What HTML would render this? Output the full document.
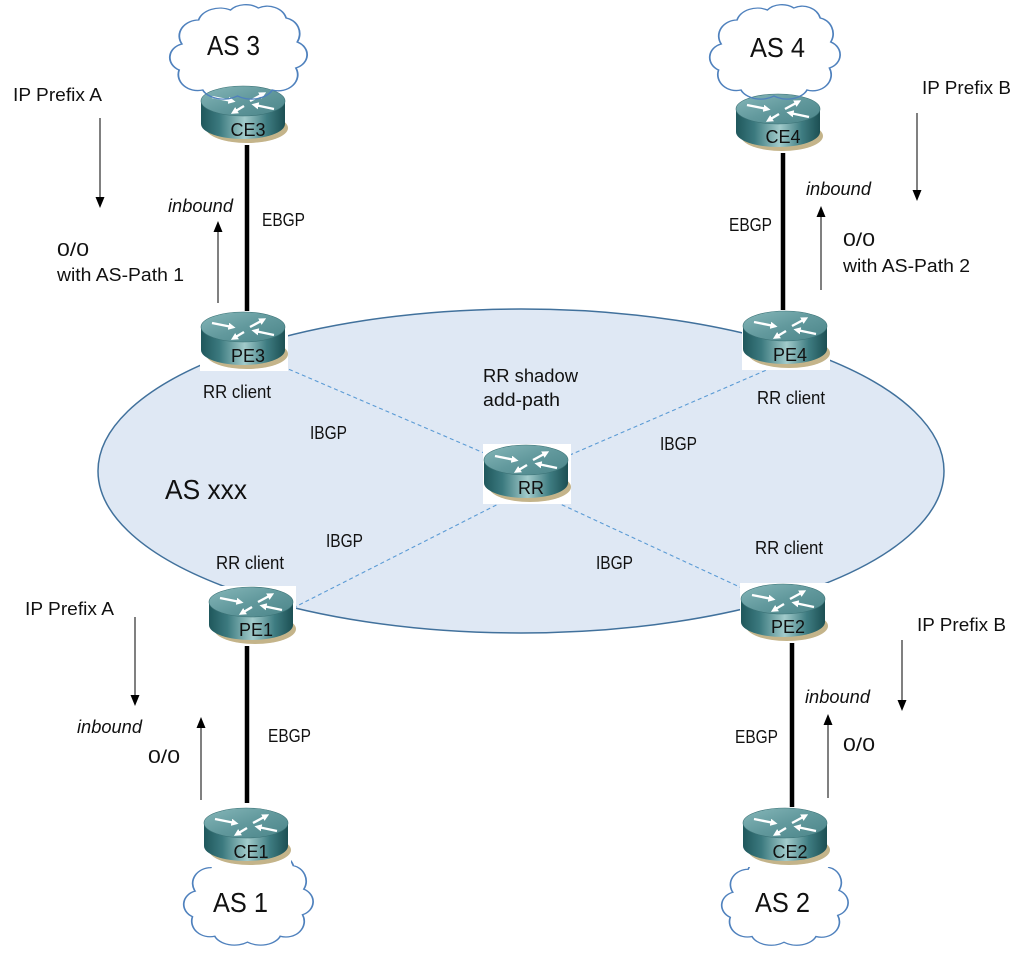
<!DOCTYPE html>
<html>
<head>
<meta charset="utf-8">
<style>
html,body{margin:0;padding:0;background:#fff;}
svg{display:block;}
text{font-family:"Liberation Sans",Arial,sans-serif;fill:#111;}
</style>
</head>
<body>
<svg width="1024" height="954" viewBox="0 0 1024 954" xmlns="http://www.w3.org/2000/svg">
<defs>
  <linearGradient id="gs" x1="0" y1="0" x2="1" y2="0">
    <stop offset="0" stop-color="#1f575c"/>
    <stop offset="0.22" stop-color="#3c7a7f"/>
    <stop offset="0.52" stop-color="#a2cbcb"/>
    <stop offset="0.78" stop-color="#3f7d82"/>
    <stop offset="1" stop-color="#1c4f53"/>
  </linearGradient>
  <linearGradient id="gt" x1="0" y1="0" x2="1" y2="1">
    <stop offset="0" stop-color="#86b7b9"/>
    <stop offset="0.5" stop-color="#62999d"/>
    <stop offset="1" stop-color="#4b8589"/>
  </linearGradient>
  <marker id="wh" viewBox="0 0 10 10" refX="5" refY="5" markerWidth="3" markerHeight="3" orient="auto">
    <path d="M0,0 L10,5 L0,10 Z" fill="#fff"/>
  </marker>
  <symbol id="rt" viewBox="0 0 88 60">
    <rect width="88" height="60" fill="#fff"/>
    <ellipse cx="47" cy="43" rx="41" ry="15" fill="#c4b48a"/>
    <path d="M1,16 L1,39 A42,15 0 0 0 85,39 L85,16 Z" fill="url(#gs)"/>
    <ellipse cx="43" cy="16" rx="42" ry="15" fill="url(#gt)" stroke="#3a7175" stroke-width="0.6"/>
    <g stroke="#fff" stroke-width="2.4" fill="none" marker-end="url(#wh)">
      <path d="M12,12 L32,16"/>
      <path d="M50,16 L63,9"/>
      <path d="M44,21 L34,27"/>
      <path d="M74,24 L55,20"/>
    </g>
  </symbol>
  <path id="cloud" d="M10,42 A14,16 0 0 1 22,18 A16,16 0 0 1 45,8 A14,14 0 0 1 65,6 A14,16 0 0 1 85,16 A12,16 0 0 1 93,40 A12,14 0 0 1 92,66 A14,16 0 0 1 75,88 A16,14 0 0 1 50,94 A16,14 0 0 1 25,88 A14,16 0 0 1 8,68 A12,14 0 0 1 10,42 Z"/>
</defs>

<rect width="1024" height="954" fill="#fff"/>

<!-- AS xxx ellipse -->
<ellipse cx="521" cy="471" rx="423" ry="162" fill="#dfe8f4" stroke="#41719c" stroke-width="1.5"/>

<!-- IBGP dashed lines -->
<g stroke="#5b9bd5" stroke-width="1.1" stroke-dasharray="4 3" fill="none">
  <line x1="244" y1="350" x2="526" y2="471"/>
  <line x1="785" y1="362" x2="526" y2="474"/>
  <line x1="293" y1="608" x2="526" y2="490"/>
  <line x1="530" y1="490" x2="770" y2="601"/>
</g>

<!-- EBGP thick lines -->
<g stroke="#000" stroke-width="4.5">
  <line x1="247" y1="140" x2="247" y2="313"/>
  <line x1="783" y1="146" x2="783" y2="312"/>
  <line x1="247" y1="634" x2="247" y2="803"/>
  <line x1="792" y1="638" x2="792" y2="808"/>
</g>

<!-- top clouds fill -->
<g fill="#fff">
  <use href="#cloud" transform="translate(168,2) scale(1.39,1.0)"/>
  <use href="#cloud" transform="translate(708,2) scale(1.32,1.0)"/>
</g>

<!-- bottom clouds -->
<g fill="#fff" stroke="#4f81bd" stroke-width="1.3">
  <use href="#cloud" vector-effect="non-scaling-stroke" transform="translate(182,850) scale(1.31,0.98)"/>
  <use href="#cloud" vector-effect="non-scaling-stroke" transform="translate(720,852) scale(1.28,0.96)"/>
</g>

<!-- routers -->
<use href="#rt" x="200" y="85" width="88" height="60"/>
<use href="#rt" x="200" y="311" width="88" height="60"/>
<use href="#rt" x="483" y="444" width="88" height="60"/>
<use href="#rt" x="735" y="93" width="88" height="60"/>
<use href="#rt" x="742" y="310" width="88" height="60"/>
<use href="#rt" x="208" y="586" width="88" height="60"/>
<use href="#rt" x="740" y="583" width="88" height="60"/>
<use href="#rt" x="203" y="807" width="88" height="60"/>
<use href="#rt" x="742" y="807" width="88" height="60"/>

<!-- top clouds outline over routers -->
<g fill="none" stroke="#4f81bd" stroke-width="1.3">
  <use href="#cloud" vector-effect="non-scaling-stroke" transform="translate(168,2) scale(1.39,1.0)"/>
  <use href="#cloud" vector-effect="non-scaling-stroke" transform="translate(708,2) scale(1.32,1.0)"/>
</g>

<!-- router labels -->
<g font-size="18" text-anchor="middle" style="fill:#111">
  <text x="248" y="136">CE3</text>
  <text x="248" y="362">PE3</text>
  <text x="531" y="494">RR</text>
  <text x="783" y="143">CE4</text>
  <text x="790" y="361">PE4</text>
  <text x="256" y="636">PE1</text>
  <text x="788" y="633">PE2</text>
  <text x="251" y="858">CE1</text>
  <text x="790" y="858">CE2</text>
</g>

<!-- AS labels -->
<g font-size="28">
  <text x="207" y="55" textLength="53" lengthAdjust="spacingAndGlyphs">AS 3</text>
  <text x="750" y="57" textLength="55" lengthAdjust="spacingAndGlyphs">AS 4</text>
  <text x="213" y="912" textLength="55" lengthAdjust="spacingAndGlyphs">AS 1</text>
  <text x="755" y="912" textLength="55" lengthAdjust="spacingAndGlyphs">AS 2</text>
  <text x="165" y="499" textLength="82" lengthAdjust="spacingAndGlyphs">AS xxx</text>
</g>

<!-- labels -->
<g font-size="18">
  <text x="13" y="101" textLength="89" lengthAdjust="spacingAndGlyphs">IP Prefix A</text>
  <text x="57" y="256" textLength="32" lengthAdjust="spacingAndGlyphs">0/0</text>
  <text x="57" y="281" textLength="127" lengthAdjust="spacingAndGlyphs">with AS-Path 1</text>
  <text x="168" y="212" font-style="italic" textLength="65" lengthAdjust="spacingAndGlyphs">inbound</text>
  <text x="262" y="226" textLength="43" lengthAdjust="spacingAndGlyphs">EBGP</text>

  <text x="922" y="94" textLength="89" lengthAdjust="spacingAndGlyphs">IP Prefix B</text>
  <text x="806" y="195" font-style="italic" textLength="65" lengthAdjust="spacingAndGlyphs">inbound</text>
  <text x="843" y="246" textLength="32" lengthAdjust="spacingAndGlyphs">0/0</text>
  <text x="843" y="272" textLength="127" lengthAdjust="spacingAndGlyphs">with AS-Path 2</text>
  <text x="729" y="231" textLength="43" lengthAdjust="spacingAndGlyphs">EBGP</text>

  <text x="25" y="615" textLength="89" lengthAdjust="spacingAndGlyphs">IP Prefix A</text>
  <text x="77" y="733" font-style="italic" textLength="65" lengthAdjust="spacingAndGlyphs">inbound</text>
  <text x="148" y="763" textLength="32" lengthAdjust="spacingAndGlyphs">0/0</text>
  <text x="268" y="742" textLength="43" lengthAdjust="spacingAndGlyphs">EBGP</text>

  <text x="917" y="631" textLength="89" lengthAdjust="spacingAndGlyphs">IP Prefix B</text>
  <text x="805" y="703" font-style="italic" textLength="65" lengthAdjust="spacingAndGlyphs">inbound</text>
  <text x="843" y="751" textLength="32" lengthAdjust="spacingAndGlyphs">0/0</text>
  <text x="735" y="743" textLength="43" lengthAdjust="spacingAndGlyphs">EBGP</text>

  <text x="203" y="398" textLength="68" lengthAdjust="spacingAndGlyphs">RR client</text>
  <text x="757" y="404" textLength="68" lengthAdjust="spacingAndGlyphs">RR client</text>
  <text x="216" y="569" textLength="68" lengthAdjust="spacingAndGlyphs">RR client</text>
  <text x="755" y="554" textLength="68" lengthAdjust="spacingAndGlyphs">RR client</text>

  <text x="483" y="382" textLength="95" lengthAdjust="spacingAndGlyphs">RR shadow</text>
  <text x="483" y="406" textLength="77" lengthAdjust="spacingAndGlyphs">add-path</text>

  <text x="310" y="439" textLength="37" lengthAdjust="spacingAndGlyphs">IBGP</text>
  <text x="660" y="450" textLength="37" lengthAdjust="spacingAndGlyphs">IBGP</text>
  <text x="326" y="547" textLength="37" lengthAdjust="spacingAndGlyphs">IBGP</text>
  <text x="596" y="569" textLength="37" lengthAdjust="spacingAndGlyphs">IBGP</text>
</g>

<!-- thin arrows -->
<g stroke="#000" stroke-width="1">
  <line x1="100" y1="118" x2="100" y2="198"/>
  <line x1="218" y1="303" x2="218" y2="231"/>
  <line x1="917" y1="113" x2="917" y2="191"/>
  <line x1="821" y1="290" x2="821" y2="216"/>
  <line x1="135" y1="617" x2="135" y2="696"/>
  <line x1="201" y1="800" x2="201" y2="727"/>
  <line x1="902" y1="640" x2="902" y2="701"/>
  <line x1="828" y1="798" x2="828" y2="724"/>
</g>
<g fill="#000">
  <polygon points="95.5,197 104.5,197 100,208"/>
  <polygon points="213.5,232 222.5,232 218,221"/>
  <polygon points="912.5,190 921.5,190 917,201"/>
  <polygon points="816.5,217 825.5,217 821,206"/>
  <polygon points="130.5,695 139.5,695 135,706"/>
  <polygon points="196.5,728 205.5,728 201,717"/>
  <polygon points="897.5,700 906.5,700 902,711"/>
  <polygon points="823.5,725 832.5,725 828,714"/>
</g>
</svg>
</body>
</html>
